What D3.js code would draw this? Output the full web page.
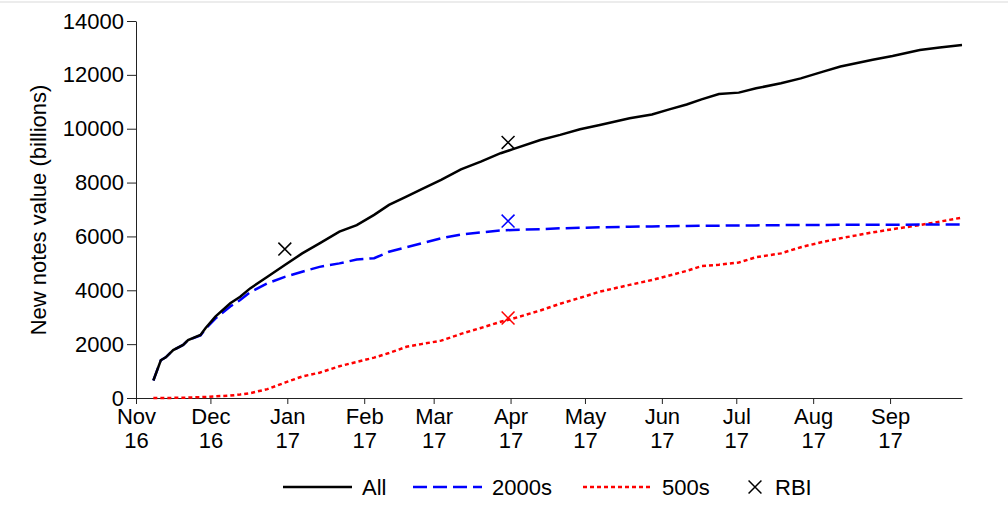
<!DOCTYPE html>
<html>
<head>
<meta charset="utf-8">
<script src="https://cdn.jsdelivr.net/npm/d3@7"></script>
<style>
  body { margin: 0; background: #fff; }
  svg text { font-family: "Liberation Sans", Arial, sans-serif; fill: #000; }
</style>
</head>
<body>
<div id="chart"></div>
<script>
// day offsets from 1 Nov 2016
const days = [7, 10, 12, 15, 19, 21, 26, 28, 32, 38, 42, 46, 53, 60, 67, 74, 82, 89, 96, 102,
  109, 115, 123, 131, 139, 147, 152, 163, 171, 179, 187, 199, 208, 215, 222, 228, 235, 243,
  250, 260, 268, 277, 284, 297, 305, 316, 324, 333]
const allNotes = [650, 1400, 1510, 1780, 1970, 2150, 2340, 2590, 3020, 3520, 3760, 4070, 4500,
  4940, 5370, 5740, 6180, 6420, 6800, 7170, 7480, 7750, 8100, 8490, 8780, 9090, 9240, 9580,
  9770, 9980, 10140, 10390, 10530, 10720, 10900, 11090, 11290, 11340, 11500, 11690, 11870,
  12120, 12310, 12560, 12700, 12920, 13020, 13110]
const notes2000 = [650, 1400, 1510, 1780, 1970, 2150, 2320, 2560, 2950, 3400, 3640, 3930, 4260,
  4500, 4690, 4870, 5000, 5140, 5190, 5430, 5600, 5740, 5930, 6070, 6150, 6220, 6240, 6270,
  6300, 6320, 6340, 6360, 6370, 6380, 6390, 6400, 6400, 6410, 6410, 6420, 6420, 6420, 6430,
  6430, 6430, 6440, 6440, 6440]
const notes500 = [0, 0, 0, 5, 10, 15, 30, 40, 60, 90, 130, 180, 330, 570, 800, 940, 1180, 1340,
  1500, 1670, 1900, 2000, 2130, 2380, 2600, 2830, 2950, 3250, 3500, 3720, 3950, 4200, 4380,
  4550, 4720, 4900, 4950, 5030, 5230, 5370, 5600, 5800, 5930, 6150, 6270, 6420, 6550, 6700]

// RBI figures (day offset, value, series)
const rbiDays = [60, 150, 150, 150]
const rbiValues = [5530, 9490, 6570, 2970]
const rbiSeries = ["all", "all", "2000", "500"]

const monthTicks = ["Nov 16", "Dec 16", "Jan 17", "Feb 17", "Mar 17", "Apr 17", "May 17",
  "Jun 17", "Jul 17", "Aug 17", "Sep 17"]
const yTicks = [0, 2000, 4000, 6000, 8000, 10000, 12000, 14000]

const width = 1008
const height = 529
const fontSize = "22px"
const start = new Date(2016, 10, 1)
const toDate = d => d3.timeDay.offset(start, d)

const svg = d3.select("#chart")
  .append("svg")
    .attr("width", width)
    .attr("height", height)

// faint page edge at the top
svg.append("line")
  .attr("x1", 0).attr("x2", width)
  .attr("y1", 2).attr("y2", 2)
  .attr("stroke", "#ececec")
  .attr("stroke-width", 2)

const x = d3.scaleTime()
  .domain([start, new Date(2017, 8, 30)])
  .range([136, 962])
const y = d3.scaleLinear()
  .domain([0, 14000])
  .range([398, 21])

const parseTick = d3.timeParse("%b %y")

// x axis
const xAxis = svg.append("g")
  .attr("transform", "translate(0,398)")
  .call(d3.axisBottom(x)
    .tickValues(monthTicks.map(parseTick))
    .tickSize(6)
    .tickSizeOuter(0)
    .tickFormat(""))
xAxis.selectAll("path, line").attr("stroke", "#222")
xAxis.selectAll(".tick").each(function(d) {
  const t = d3.select(this).append("text")
    .attr("text-anchor", "middle")
    .style("font-size", fontSize)
  t.append("tspan").attr("x", 0).attr("y", 26).text(d3.timeFormat("%b")(d))
  t.append("tspan").attr("x", 0).attr("y", 50).text(d3.timeFormat("%y")(d))
})

// y axis
const yAxis = svg.append("g")
  .attr("transform", "translate(136,0)")
  .call(d3.axisLeft(y).tickValues(yTicks).tickSize(9).tickSizeOuter(0).tickPadding(3)
    .tickFormat(d3.format("d")))
yAxis.selectAll("path, line").attr("stroke", "#222")
yAxis.selectAll("text")
  .style("font-size", fontSize)
  .attr("fill", "#000")

svg.append("text")
  .attr("transform", "translate(46,210) rotate(-90)")
  .attr("text-anchor", "middle")
  .style("font-size", fontSize)
  .text("New notes value (billions)")

// series
const series = [
  { key: "all", values: allNotes, color: "#000", dash: null },
  { key: "2000", values: notes2000, color: "#0000ff", dash: "14,6" },
  { key: "500", values: notes500, color: "#ff0000", dash: "4,3" }
]

const line = d3.line()
  .x(d => x(toDate(d[0])))
  .y(d => y(d[1]))

series.slice().reverse().forEach(s => {
  svg.append("path")
    .datum(days.map((d, i) => [d, s.values[i]]))
    .attr("d", line)
    .attr("fill", "none")
    .attr("stroke", s.color)
    .attr("stroke-width", 2.5)
    .attr("stroke-dasharray", s.dash)
})

// RBI crosses
const colorOf = k => series.find(s => s.key === k).color
const cross = d3.symbol().type(d3.symbolX).size(110)
svg.selectAll(".rbi")
  .data(rbiDays.map((d, i) => ({ day: d, v: rbiValues[i], s: rbiSeries[i] })))
  .join("path")
    .attr("class", "rbi")
    .attr("transform", d => `translate(${x(toDate(d.day))},${y(d.v)})`)
    .attr("d", cross)
    .attr("fill", "none")
    .attr("stroke", d => colorOf(d.s))
    .attr("stroke-width", 1.5)

// legend
const legend = svg.append("g").attr("transform", "translate(0,487)")
const legendItems = [
  { label: "All", x: 283, color: "#000", dash: null },
  { label: "2000s", x: 413, color: "#0000ff", dash: "14,6" },
  { label: "500s", x: 583, color: "#ff0000", dash: "4,3" }
]
legendItems.forEach(d => {
  legend.append("line")
    .attr("x1", d.x).attr("x2", d.x + 69)
    .attr("stroke", d.color)
    .attr("stroke-width", 2.5)
    .attr("stroke-dasharray", d.dash)
  legend.append("text")
    .attr("x", d.x + 79)
    .attr("y", 8)
    .style("font-size", fontSize)
    .text(d.label)
})
legend.append("path")
  .attr("transform", "translate(755,0)")
  .attr("d", cross)
  .attr("fill", "none")
  .attr("stroke", "#000")
  .attr("stroke-width", 1.5)
legend.append("text")
  .attr("x", 775)
  .attr("y", 8)
  .style("font-size", fontSize)
  .text("RBI")
</script>
</body>
</html>
